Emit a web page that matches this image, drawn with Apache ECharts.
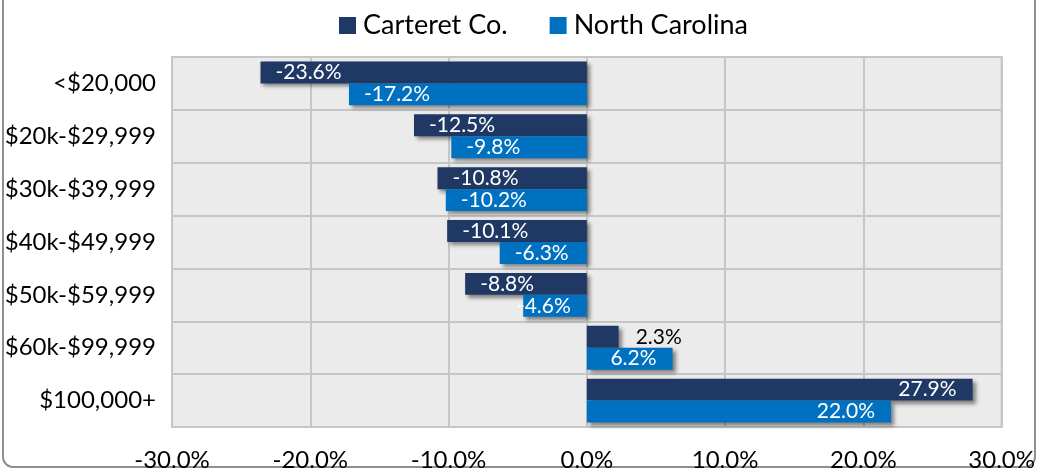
<!DOCTYPE html>
<html>
<head>
<meta charset="utf-8">
<script src="https://cdn.jsdelivr.net/npm/echarts@6/dist/echarts.min.js"></script>
<style>
  html, body { margin: 0; padding: 0; background: #fff; }
  #chart { width: 1038px; height: 472px; }
</style>
</head>
<body>
<div id="chart"></div>
<script>
const categories = ['<$20,000', '$20k-$29,999', '$30k-$39,999', '$40k-$49,999', '$50k-$59,999', '$60k-$99,999', '$100,000+']
const carteret = [-23.6, -12.5, -10.8, -10.1, -8.8, 2.3, 27.9]
const northCarolina = [-17.2, -9.8, -10.2, -6.3, -4.6, 6.2, 22.0]
const xTicks = { min : -30, max : 30, interval : 10 }

const font = 'Lato, "Open Sans", sans-serif'

// label sits just inside the far end of the bar; short bars keep it near the axis
const toItems = ( values ) => values.map( ( v ) => {
  let label
  if ( Math.abs( v ) < 3 ) {
    label = { position : 'right', distance : 17, color : '#000' }
  } else if ( v < -6 ) {
    label = { position : 'insideLeft', distance : 15 }
  } else {
    label = { position : 'insideRight', distance : 16 }
  }
  return { value : v, label }
} )

const barSeries = ( name, values, color ) => ( {
  name,
  type : 'bar',
  data : toItems( values ),
  barGap : '0%',
  barCategoryGap : '17%',
  itemStyle : {
    color,
    shadowBlur : 4,
    shadowOffsetX : 3,
    shadowOffsetY : 3,
    shadowColor : 'rgba(0,0,0,0.45)'
  },
  label : {
    show : true,
    color : '#fff',
    fontSize : 21,
    fontFamily : font,
    formatter : ( p ) => p.value.toFixed( 1 ) + '%'
  }
} )

const chart = echarts.init( document.getElementById( 'chart' ) )
chart.setOption( {
  animation : false,
  textStyle : { fontFamily : font },
  graphic : [
    {
      type : 'rect',
      shape : { x : 3, y : -20, width : 1032, height : 487, r : 10 },
      style : { fill : 'none', stroke : '#8f8f8f', lineWidth : 2 },
      silent : true
    }
  ],
  legend : {
    top : 7,
    left : 334,
    itemWidth : 17,
    itemHeight : 17,
    itemGap : 42,
    icon : 'rect',
    textStyle : { fontSize : 27, color : '#000', fontFamily : font, padding : [0, 0, 0, 2] }
  },
  grid : {
    left : 172,
    right : 34,
    top : 57,
    bottom : 45,
    show : true,
    backgroundColor : '#ebebeb',
    borderColor : '#c6c6c6',
    borderWidth : 2
  },
  xAxis : {
    type : 'value',
    min : xTicks.min,
    max : xTicks.max,
    interval : xTicks.interval,
    axisLine : { show : false },
    axisTick : { show : false },
    splitLine : { lineStyle : { color : '#c6c6c6', width : 2 } },
    axisLabel : {
      margin : 21,
      fontSize : 24,
      color : '#000',
      fontFamily : font,
      formatter : ( v ) => v.toFixed( 1 ) + '%'
    }
  },
  yAxis : {
    type : 'category',
    data : categories,
    inverse : true,
    axisLine : { show : false },
    axisTick : { show : false },
    splitLine : { show : true, lineStyle : { color : '#c6c6c6', width : 2 } },
    axisLabel : {
      margin : 16,
      fontSize : 24,
      color : '#000',
      fontFamily : font
    }
  },
  series : [
    barSeries( 'Carteret Co.', carteret, '#203864' ),
    barSeries( 'North Carolina', northCarolina, '#0070c0' )
  ]
} )
</script>
</body>
</html>
